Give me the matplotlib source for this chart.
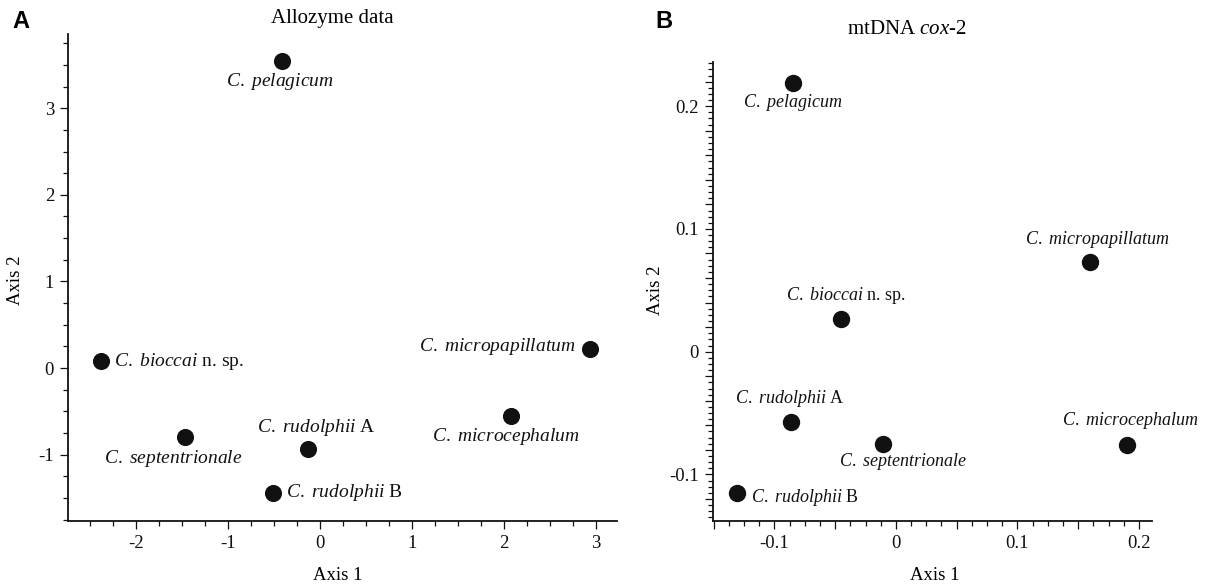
import matplotlib
matplotlib.use("Agg")
import matplotlib.pyplot as plt
from matplotlib.ticker import MultipleLocator, FuncFormatter

plt.rcParams['font.family'] = ['Liberation Serif', 'DejaVu Serif']
plt.rcParams['axes.unicode_minus'] = False
plt.rcParams['mathtext.fontset'] = 'custom'
plt.rcParams['mathtext.rm'] = 'Liberation Serif'
plt.rcParams['mathtext.it'] = 'Liberation Serif:italic'
plt.rcParams['mathtext.bf'] = 'Liberation Serif:bold'

# ---- Data ----
species = ["pelagicum", "bioccai", "septentrionale", "rudolphii A",
           "rudolphii B", "micropapillatum", "microcephalum"]
italic_names = ["C. pelagicum", "C. bioccai", "C. septentrionale", "C. rudolphii",
                "C. rudolphii", "C. micropapillatum", "C. microcephalum"]
suffixes = ["", " n. sp.", "", " A", " B", "", ""]

allo_axis1 = [-0.41, -2.38, -1.47, -0.13, -0.51, 2.94, 2.08]
allo_axis2 = [3.55, 0.08, -0.80, -0.93, -1.44, 0.22, -0.55]

cox_axis1 = [-0.085, -0.045, -0.011, -0.086, -0.131, 0.160, 0.190]
cox_axis2 = [0.219, 0.027, -0.075, -0.057, -0.115, 0.073, -0.076]

# label offsets in pixels (dx, dy), alignment
allo_offsets = [(-2, -21, 'center'), (13, 0, 'left'), (-12, -21, 'center'),
                (8, 21, 'center'), (13, 0, 'left'), (-15, 2, 'right'), (-5, -21, 'center')]
cox_offsets = [(0, -20, 'center'), (5, 23, 'center'), (20, -18, 'center'),
               (-1, 23, 'center'), (14, -5, 'left'), (7, 23, 'center'), (3, 24, 'center')]

W, H = 1206, 587
fig = plt.figure(figsize=(W / 100, H / 100), dpi=100)

def setup(ax):
    for s in ['top', 'right']:
        ax.spines[s].set_visible(False)
    for s in ['left', 'bottom']:
        ax.spines[s].set_linewidth(1.3)
        ax.spines[s].set_color('#111111')
    ax.tick_params(which='major', direction='out', length=6, width=0.9, labelsize=13.5,
                   colors='#111111', pad=4)
    ax.tick_params(which='minor', direction='out', length=3.5, width=0.9, colors='#111111')

def fmt(v, pos):
    r = round(v, 6)
    if abs(r) < 1e-9:
        return "0"
    return ("%g" % r)

px = 0.72  # points per pixel

def label(nm, suf):
    return r"$\it{" + nm.replace(' ', r'\ ') + "}$" + suf

# ---- Panel A ----
axA = fig.add_axes([68 / W, 1 - 520.7 / H, (617 - 68) / W, (520.7 - 34) / H])
setup(axA)
axA.set_xlim(-2.742, 3.23)
axA.set_ylim(-1.763, 3.857)
axA.xaxis.set_major_locator(MultipleLocator(1))
axA.xaxis.set_minor_locator(MultipleLocator(0.25))
axA.yaxis.set_major_locator(MultipleLocator(1))
axA.yaxis.set_minor_locator(MultipleLocator(0.25))
axA.xaxis.set_major_formatter(FuncFormatter(fmt))
axA.yaxis.set_major_formatter(FuncFormatter(fmt))
axA.plot(allo_axis1, allo_axis2, 'o', color='#111111', markersize=11.3, linestyle='none')
for x, y, nm, suf, (dx, dy, ha) in zip(allo_axis1, allo_axis2, italic_names, suffixes, allo_offsets):
    axA.annotate(label(nm, suf), (x, y), xytext=(dx * px, dy * px),
                 textcoords='offset points', ha=ha, va='center', fontsize=14, color='#111111')
fig.text(338 / W, 1 - 575 / H, "Axis 1", ha='center', va='center', fontsize=13.5)
fig.text(15 / W, 1 - 280 / H, "Axis 2", ha='center', va='center', fontsize=13.5, rotation=90)
fig.text(332 / W, 1 - 18 / H, "Allozyme data", ha='center', va='center', fontsize=15)
fig.text(21 / W, 1 - 21 / H, "A", ha='center', va='center', fontsize=17,
         fontweight='bold', family='Liberation Sans')

# ---- Panel B ----
axB = fig.add_axes([713 / W, 1 - 520.7 / H, (1152 - 713) / W, (520.7 - 62) / H])
setup(axB)
axB.set_xlim(-0.1505, 0.2107)
axB.set_ylim(-0.1377, 0.236)
axB.xaxis.set_major_locator(MultipleLocator(0.05))
axB.xaxis.set_minor_locator(MultipleLocator(0.0125))
axB.yaxis.set_major_locator(MultipleLocator(0.02))
axB.yaxis.set_minor_locator(MultipleLocator(0.005))

def fmt_tenth(v, pos):
    if abs(v / 0.1 - round(v / 0.1)) < 1e-6:
        return fmt(v, pos)
    return ""

axB.xaxis.set_major_formatter(FuncFormatter(fmt_tenth))
axB.yaxis.set_major_formatter(FuncFormatter(fmt_tenth))
axB.plot(cox_axis1, cox_axis2, 'o', color='#111111', markersize=11.5, linestyle='none')
for x, y, nm, suf, (dx, dy, ha) in zip(cox_axis1, cox_axis2, italic_names, suffixes, cox_offsets):
    axB.annotate(label(nm, suf), (x, y), xytext=(dx * px, dy * px),
                 textcoords='offset points', ha=ha, va='center', fontsize=13, color='#111111')
fig.text(935 / W, 1 - 575 / H, "Axis 1", ha='center', va='center', fontsize=13.5)
fig.text(655 / W, 1 - 290 / H, "Axis 2", ha='center', va='center', fontsize=13.5, rotation=90)
fig.text(907 / W, 1 - 30 / H, r"mtDNA $\it{cox}$-$\it{2}$", ha='center', va='center', fontsize=15)
fig.text(664 / W, 1 - 22 / H, "B", ha='center', va='center', fontsize=17,
         fontweight='bold', family='Liberation Sans')

fig.savefig("out.png", dpi=100, facecolor='white')
